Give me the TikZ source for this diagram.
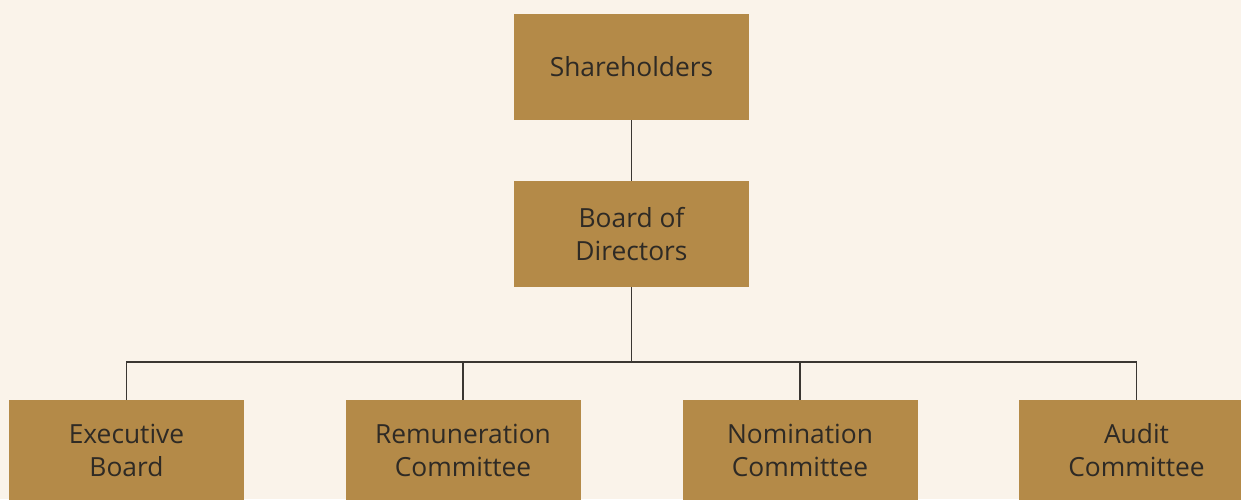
\documentclass[tikz,border=0pt]{standalone}
\usepackage{fontspec}
\setmainfont{Open Sans}
\usepackage{xcolor}
\definecolor{bgcol}{HTML}{FAF3EA}
\definecolor{boxcol}{HTML}{B48A48}
\definecolor{textcol}{HTML}{2E2A25}
\definecolor{linecol}{HTML}{3A3632}
\begin{document}
\begin{tikzpicture}[
  orgbox/.style={fill=boxcol, minimum width=4.7cm, minimum height=2.12cm,
    inner sep=0pt, text=textcol, align=center,
    font=\fontsize{15}{18.8}\selectfont},
  link/.style={draw=linecol, line width=0.6pt}
]
  \fill[bgcol] (0, 0) rectangle (24.82, 9.98);
  \useasboundingbox (0, 0) rectangle (24.82, 9.98);
  \clip (0, 0) rectangle (24.82, 9.98);
  \node[orgbox] (share) at (12.63, 8.64) {Shareholders};
  \node[orgbox] (board) at (12.63, 5.30) {Board of\\Directors};
  \node[orgbox, minimum height=2cm] (exec) at (2.53, 0.98) {Executive\\Board};
  \node[orgbox, minimum height=2cm] (remu) at (9.26, 0.98) {Remuneration\\Committee};
  \node[orgbox, minimum height=2cm] (nomi) at (16.00, 0.98) {Nomination\\Committee};
  \node[orgbox, minimum height=2cm] (audit) at (22.73, 0.98) {Audit\\Committee};
  \coordinate (bus) at (12.63, 2.74);
  \draw[link] (share) -- (board);
  \draw[link] (board) -- (bus);
  \draw[link] (exec.north) |- (bus) -| (audit.north);
  \draw[link] (remu.north) -- (remu.north |- bus);
  \draw[link] (nomi.north) -- (nomi.north |- bus);
\end{tikzpicture}
\end{document}
